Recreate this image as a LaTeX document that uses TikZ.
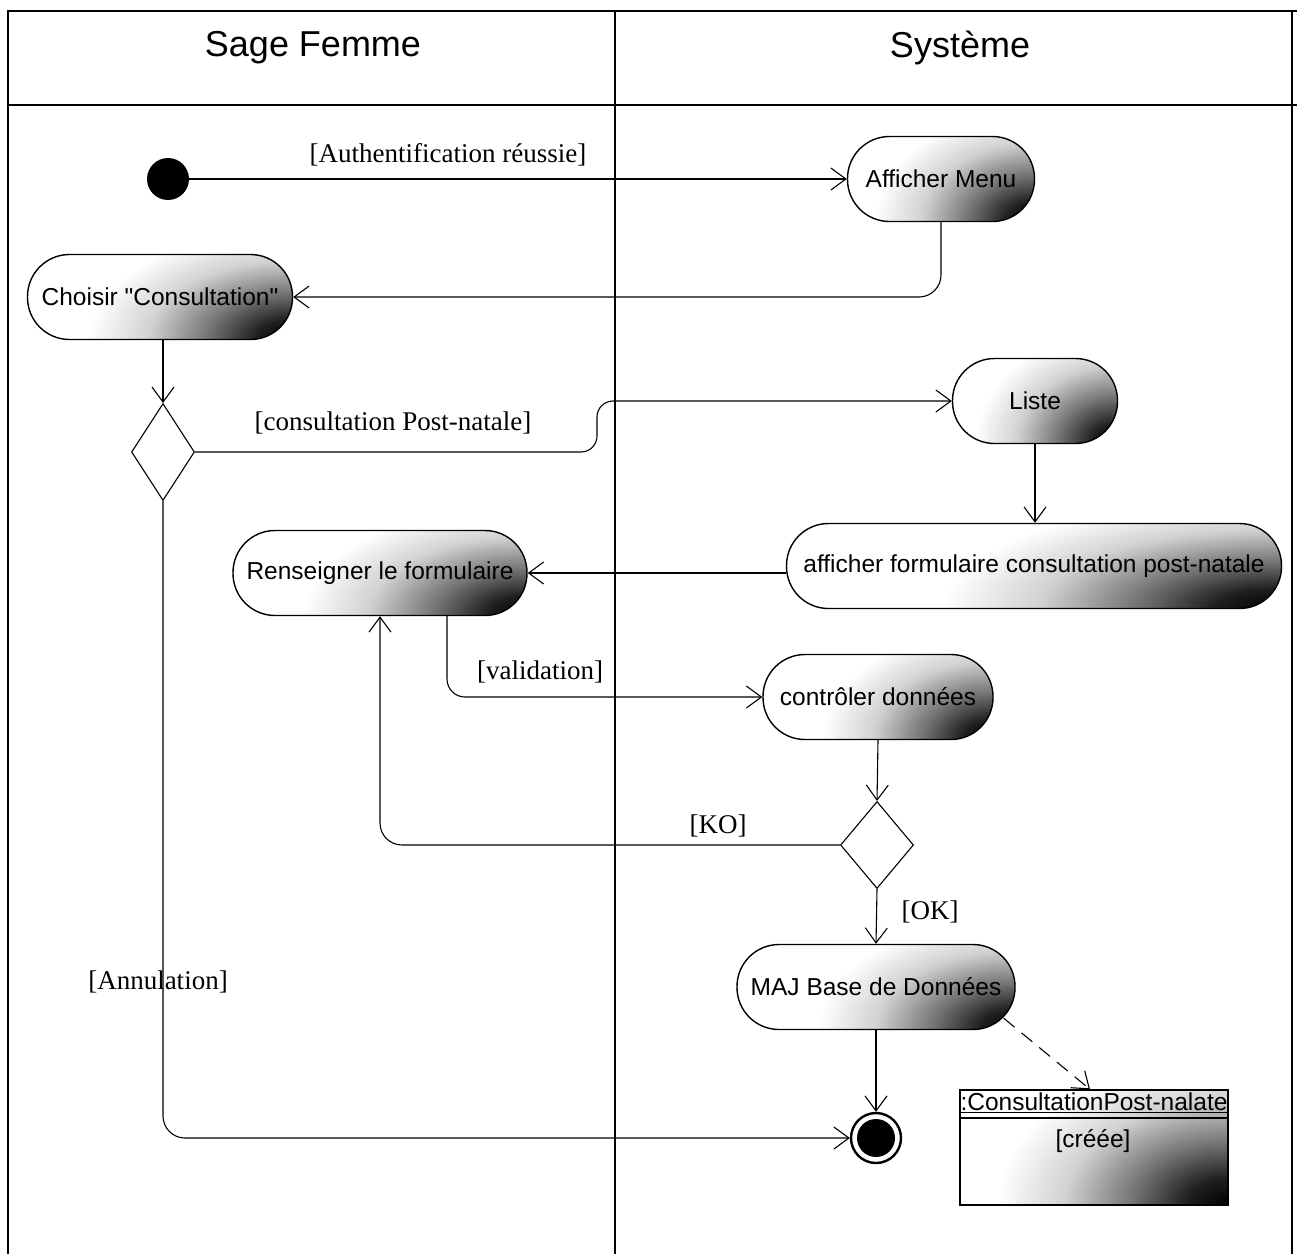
\documentclass[tikz,border=0pt]{standalone}
\usepackage{fontspec}
\setmainfont{Liberation Serif}
\newfontfamily\arialf{Liberation Sans}
\usetikzlibrary{shapes.geometric,arrows.meta}

% dark lower-right corner of the activity boxes
\pgfdeclareradialshading{cornerdark}{\pgfpoint{0bp}{0bp}}{%
  color(0bp)=(black); color(3bp)=(black!88); color(7bp)=(black!55);
  color(12bp)=(black!18); color(17bp)=(white); color(50bp)=(white)}

\begin{document}
\begin{tikzpicture}[x=1pt,y=-1pt,
  frame/.style={line width=2.6pt},
  act/.style={draw, line width=1.4pt, rounded corners=42pt, minimum height=85pt,
    inner sep=0pt, font=\arialf\fontsize{24.5}{28}\selectfont,
    path picture={\shade[shading=cornerdark]
      (path picture bounding box.south east) ellipse ({#1} and 165pt);}},
  act/.default=235pt,
  decision/.style={draw, diamond, line width=1.1pt, inner sep=0pt},
  arr/.style={-{Straight Barb[length=15pt,width=22pt]}, line width=1.1pt},
  lbl/.style={font=\fontsize{27}{30}\selectfont, inner sep=0pt},
  head/.style={font=\arialf\fontsize{36}{40}\selectfont, inner sep=0pt}]

\useasboundingbox (0,0) rectangle (1297,1254);

% swimlanes
\draw[frame] (8,1254) -- (8,11) -- (1297,11);
\draw[frame] (1292,11) -- (1292,1254);
\draw[frame] (8,105) -- (1297,105);
\draw[line width=2pt] (615,11) -- (615,1254);
\node[head] (laneA) at (313,48) {Sage Femme};
\node[head] (laneB) at (960,48) {Système};

% nodes
\node[circle, fill=black, minimum size=42pt, inner sep=0pt] (init) at (168,179) {};
\node[act, minimum width=187pt] (menu) at (941,179) {Afficher Menu};
\node[act=300pt, minimum width=265pt] (choisir) at (160,297) {Choisir "Consultation"};
\node[decision, minimum width=63pt, minimum height=97pt] (d1) at (163,452) {};
\node[act=210pt, minimum width=165pt] (liste) at (1035,401) {Liste};
\node[act=480pt, minimum width=495pt] (form) at (1034,566) {afficher formulaire consultation post-natale};
\node[act=330pt, minimum width=294pt] (rens) at (380,573) {Renseigner le formulaire};
\node[act=250pt, minimum width=230pt] (ctrl) at (878,697) {contrôler données};
\node[decision, minimum width=73pt, minimum height=87pt] (d2) at (877,845) {};
\node[act=290pt, minimum width=278pt] (maj) at (876,987) {MAJ Base de Données};
\node[circle, draw, line width=2.4pt, minimum size=50pt, inner sep=0pt] (final) at (876,1138) {};
\fill (final) circle (19pt);

% object node
\node[draw, line width=1.3pt, minimum width=268pt, minimum height=115pt, inner sep=0pt,
  path picture={\shade[shading=cornerdark]
    (path picture bounding box.south east) ellipse (340pt and 220pt);}] (obj) at (1094,1147.5) {};
\draw[line width=1.1pt] (960,1118) -- (1228,1118);
\node[font=\arialf\fontsize{24.5}{28}\selectfont, inner sep=0pt] (objname) at (1094,1103)
  {\underline{:ConsultationPost-nalate}};
\node[font=\arialf\fontsize{24.5}{28}\selectfont, inner sep=0pt] (objstate) at (1093,1141) {[créée]};

% transitions
\draw[arr] (init) -- (menu.west);
\node[lbl] (t1) at (448,155) {[Authentification réussie]};

\draw[arr, rounded corners=22pt] (menu.south) |- (choisir.east);

\draw[arr] (choisir.south -| d1.north) -- (d1.north);

\draw[arr, rounded corners=16pt] (d1.east) -- (597,452) |- (liste.west);
\node[lbl] (t2) at (393,423) {[consultation Post-natale]};

\draw[arr, rounded corners=22pt] (d1.south) |- (final.west);
\node[lbl] (t3) at (158,982) {[Annulation]};

\draw[arr] (liste.south) -- (liste.south |- form.north);

\draw[arr] (form.west |- rens.east) -- (rens.east);

\draw[arr, rounded corners=18pt] ([xshift=67pt]rens.south) |- (ctrl.west);
\node[lbl] (t4) at (540,672) {[validation]};

\draw[arr] (ctrl.south) -- (d2.north);

\draw[arr, rounded corners=22pt] (d2.west) -| (rens.south);
\node[lbl] (t5) at (718,826) {[KO]};

\draw[arr] (d2.south) -- (maj.north);
\node[lbl] (t6) at (930,912) {[OK]};

\draw[arr] (maj.south) -- (final.north);

\draw[arr, dash pattern=on 14pt off 9pt] ([shift={(-12,-12)}]maj.south east) -- ([xshift=-4pt]obj.north);

\end{tikzpicture}
\end{document}
